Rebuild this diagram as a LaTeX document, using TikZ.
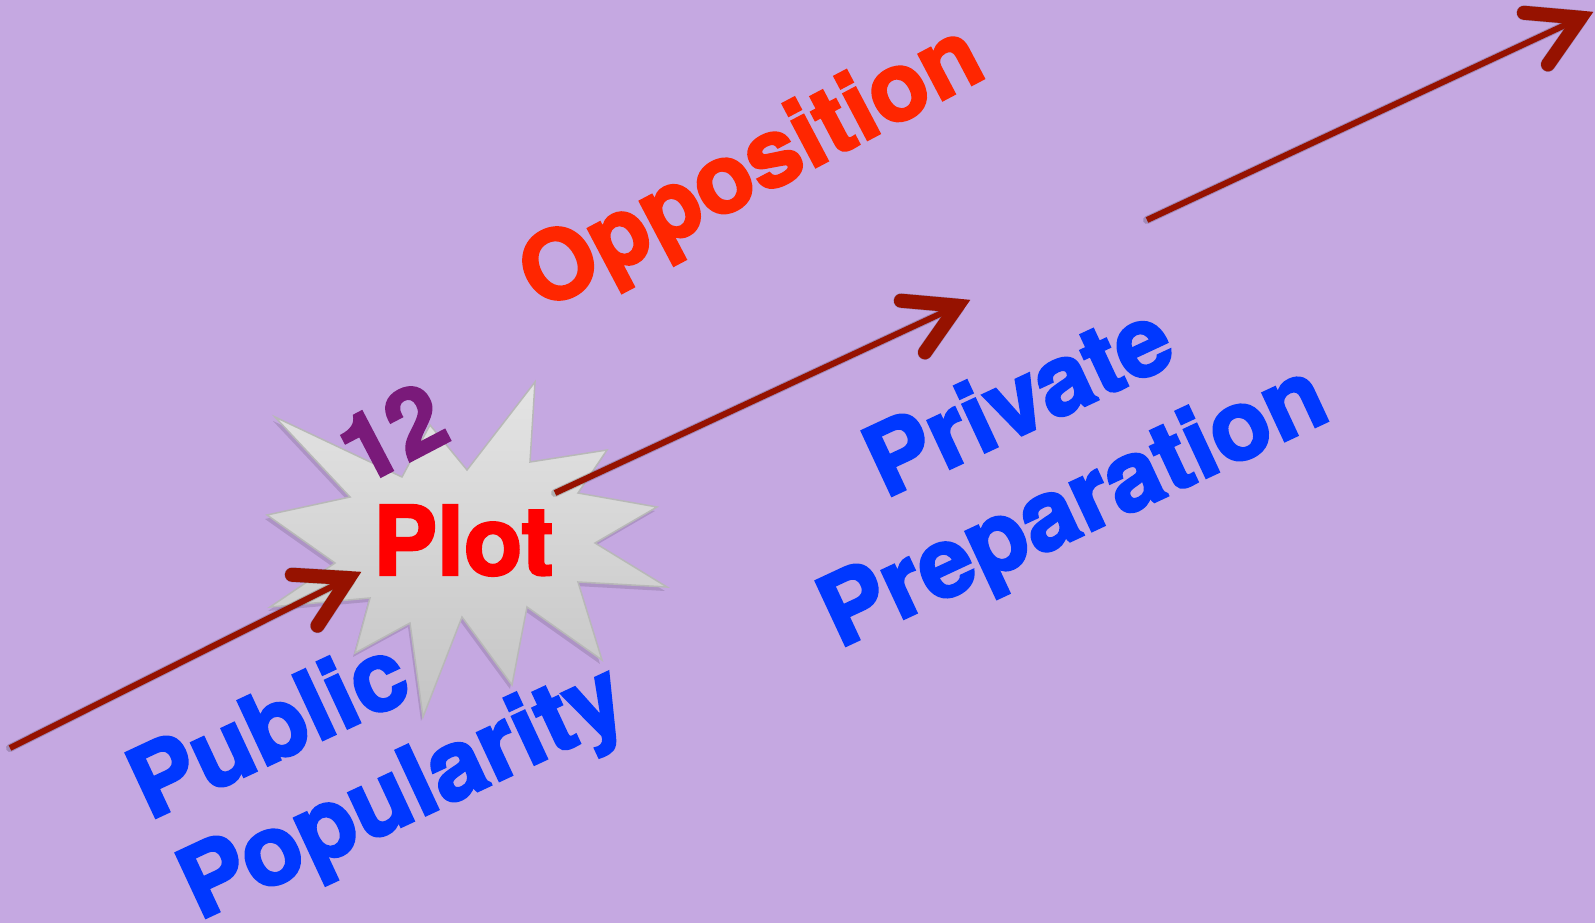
\documentclass[tikz,border=0pt]{standalone}
\usepackage{fontspec}
\setmainfont{TeX Gyre Heros}
\newfontfamily\heavyfont[FakeBold=2.5]{texgyreheros-bold.otf}
\usetikzlibrary{calc}
\definecolor{bgc}{RGB}{197,168,225}
\definecolor{oppred}{RGB}{255,38,0}
\definecolor{plotred}{RGB}{255,0,0}
\definecolor{txtblue}{RGB}{0,56,255}
\definecolor{numpurple}{RGB}{122,26,122}
\definecolor{arrowred}{RGB}{150,18,0}
\definecolor{starline}{RGB}{184,184,184}
\definecolor{startop}{RGB}{228,228,228}
\definecolor{starbot}{RGB}{196,196,196}
\tikzset{
  bigtxt/.style={inner sep=0pt, font=\fontsize{96}{110}\heavyfont},
  bluetxt/.style={inner sep=0pt, text=txtblue, anchor=base west, rotate=25, font=\fontsize{98}{110}\heavyfont},
  shaftline/.style={draw=arrowred, line width=6pt, line cap=butt},
  headline/.style={draw=arrowred, line width=14pt, line cap=round, line join=miter, miter limit=10},
  shadowline/.style={draw=black, opacity=0.18, line width=8pt, line cap=round, line join=round},
}
\newcommand{\myarrow}[3]{% #1 start, #2 tip, #3 name prefix
  \coordinate (#3c) at ($(#2)!13.6pt!(#1)$);
  \coordinate (#3l) at ($(#3c)!57pt!30:(#1)$);
  \coordinate (#3r) at ($(#3c)!57pt!-30:(#1)$);
  \begin{scope}[xshift=1.5pt, yshift=3pt]
    \draw[shadowline] (#1) -- (#3c);
    \draw[shadowline, line width=15pt] (#3l) -- (#3c) -- (#3r);
  \end{scope}
  \draw[shaftline] (#1) -- (#3c);
  \draw[headline] (#3l) -- (#3c) -- (#3r);
}
\begin{document}
\begin{tikzpicture}[x=1pt, y=-1pt]
\fill[bgc] (0,0) rectangle (1595,923);
\useasboundingbox (0,0) rectangle (1595,923);

% star shadow
\fill[black, opacity=0.12, shift={(-2,4)}]
  (535,382) -- (530,462) -- (607,450) -- (578,493) -- (657,507) -- (595,543) --
  (667,587) -- (578,582) -- (602,660) -- (527,607) -- (512,685) -- (462,617) --
  (423,717) -- (410,623) -- (355,653) -- (370,598) -- (270,607) -- (335,563) --
  (267,515) -- (350,497) -- (275,417) -- (402,477) -- (430,425) -- (467,470) -- cycle;
% star
\draw[draw=starline, line width=1.5pt, top color=startop, bottom color=starbot, line join=miter]
  (535,382) -- (530,462) -- (607,450) -- (578,493) -- (657,507) -- (595,543) --
  (667,587) -- (578,582) -- (602,660) -- (527,607) -- (512,685) -- (462,617) --
  (423,717) -- (410,623) -- (355,653) -- (370,598) -- (270,607) -- (335,563) --
  (267,515) -- (350,497) -- (275,417) -- (402,477) -- (430,425) -- (467,470) -- cycle;

% text
\node[bigtxt, text=plotred, anchor=base west] (plot) at (373,575) {Plot};
\node[bigtxt, text=numpurple, anchor=base west, rotate=27.6, font=\fontsize{94}{110}\heavyfont] (num) at (361,487) {12};
\node[bigtxt, text=oppred, anchor=base west, rotate=27.8] (opp) at (541,312) {Opposition};
\node[bluetxt] (priv) at (885,499) {Private};
\node[bluetxt] (prep) at (839,649) {Preparation};
\node[bluetxt] (pub) at (149,821) {Public};
\node[bluetxt] (pop) at (199,921) {Popularity};

% arrows
\coordinate (a1s) at (10,748);
\coordinate (a1t) at (361,572);
\coordinate (a2s) at (555,493);
\coordinate (a2t) at (970,300);
\coordinate (a3s) at (1147,220);
\coordinate (a3t) at (1593,12);
\myarrow{a1s}{a1t}{ha}
\myarrow{a2s}{a2t}{hb}
\myarrow{a3s}{a3t}{hc}
\end{tikzpicture}
\end{document}
